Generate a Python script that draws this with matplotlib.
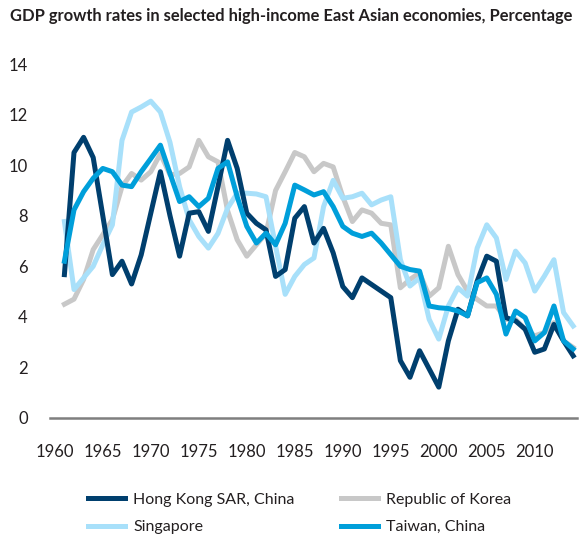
import matplotlib
matplotlib.use("Agg")
import matplotlib.pyplot as plt

years = list(range(1961, 2015))

hong_kong = [5.67, 10.5, 11.1, 10.3, 8.0, 5.67, 6.2, 5.3, 6.45, 8.1,
             9.74, 8.0, 6.4, 8.1, 8.16, 7.38, 9.15, 10.98, 9.87, 8.1,
             7.7, 7.44, 5.6, 5.87, 7.9, 8.36, 6.92, 7.5, 6.53, 5.2,
             4.76, 5.54, 5.28, 5.02, 4.76, 2.27, 1.61, 2.66, 1.94, 1.22,
             3.05, 4.3, 4.04, 5.41, 6.4, 6.2, 3.97, 3.84, 3.51, 2.6,
             2.73, 3.7, 3.05, 2.46]

korea = [4.5, 4.7, 5.48, 6.66, 7.25, 7.84, 9.15, 9.67, 9.41, 9.74,
         10.45, 9.62, 9.67, 9.93, 10.98, 10.33, 10.13, 8.2, 7.05, 6.4,
         6.85, 7.3, 9.0, 9.74, 10.5, 10.33, 9.74, 10.07, 9.93, 8.75,
         7.77, 8.23, 8.1, 7.7, 7.64, 5.15, 5.48, 5.74, 4.82, 5.15,
         6.79, 5.67, 5.02, 4.69, 4.43, 4.43, 3.9, 3.9, 3.51, 3.25,
         3.38, 3.77, 3.05, 2.79]

singapore = [7.77, 5.08, 5.54, 6.0, 6.85, 7.64, 10.98, 12.1, 12.3, 12.53,
             12.1, 10.9, 9.15, 7.84, 7.18, 6.72, 7.3, 8.3, 8.89, 8.89,
             8.86, 8.75, 6.8, 4.89, 5.6, 6.07, 6.33, 8.36, 9.4, 8.69,
             8.75, 8.89, 8.43, 8.62, 8.75, 6.26, 5.22, 5.54, 3.9, 3.12,
             4.43, 5.15, 4.82, 6.72, 7.64, 7.12, 5.48, 6.6, 6.13, 5.02,
             5.61, 6.26, 4.17, 3.64]

taiwan = [6.2, 8.23, 8.95, 9.48, 9.87, 9.74, 9.21, 9.15, 9.74, 10.26,
          10.79, 9.67, 8.56, 8.75, 8.36, 8.69, 9.87, 10.13, 8.75, 7.58,
          6.92, 7.31, 6.85, 7.7, 9.21, 9.02, 8.82, 8.95, 8.36, 7.58,
          7.31, 7.18, 7.31, 6.92, 6.46, 6.0, 5.87, 5.81, 4.43, 4.36,
          4.33, 4.23, 4.04, 5.35, 5.54, 4.89, 3.32, 4.23, 3.97, 3.05,
          3.38, 4.43, 3.05, 2.73]

plt.rcParams['font.family'] = ['Lato', 'DejaVu Sans']
text_color = '#231f20'

fig = plt.figure(figsize=(5.82, 5.37), dpi=100)
ax = fig.add_axes([50 / 582, 119 / 537, 527 / 582, 354 / 537])

lw = 3.6
l_kor, = ax.plot(years, korea, color='#c8c8c8', lw=lw, label='Republic of Korea')
l_sgp, = ax.plot(years, singapore, color='#a8e0fa', lw=lw, label='Singapore')
l_hk, = ax.plot(years, hong_kong, color='#003f6e', lw=lw, label='Hong Kong SAR, China')
l_twn, = ax.plot(years, taiwan, color='#009fda', lw=lw, label='Taiwan, China')

ax.set_xlim(1959.5, 2014.4)
ax.set_ylim(0, 14)
ax.set_xticks(range(1960, 2011, 5))
ax.set_yticks(range(0, 15, 2))
for s in ['top', 'right', 'left']:
    ax.spines[s].set_visible(False)
ax.spines['bottom'].set_color('#7f7f7f')
ax.spines['bottom'].set_linewidth(1.8)
ax.tick_params(axis='x', length=0, pad=19, labelsize=12, labelcolor=text_color)
ax.tick_params(axis='y', length=0, pad=16, labelsize=12, labelcolor=text_color)

fig.text(10 / 582, 1 - 21 / 537, 'GDP growth rates in selected high-income East Asian economies, Percentage',
         fontsize=11.9, fontweight='bold', color=text_color, va='baseline', ha='left')

fig.legend(handles=[l_hk, l_sgp, l_kor, l_twn], ncol=2, loc='upper left',
           bbox_to_anchor=(74 / 582, 1 - 478 / 537), frameon=False,
           fontsize=11.5, handlelength=2.3, handletextpad=0.5, columnspacing=2.9,
           labelspacing=0.85, labelcolor=text_color)

fig.savefig('out.png', dpi=100)
